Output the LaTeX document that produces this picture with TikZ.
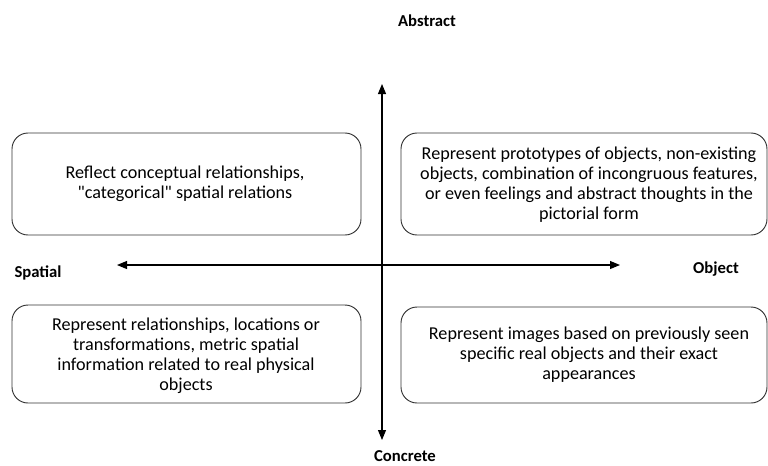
\documentclass[tikz,border=0pt]{standalone}
\usepackage{fontspec}
\setmainfont{Carlito}
\usetikzlibrary{arrows.meta}
\begin{document}
\begin{tikzpicture}[x=0.75pt,y=-0.75pt,
  box/.style={draw=black!80, rounded corners=12pt, line width=0.7pt, inner sep=0pt},
  txt/.style={align=center, font=\fontsize{13.6}{15}\selectfont, inner sep=0pt},
  lbl/.style={font=\fontsize{12.5}{15}\selectfont\bfseries, inner sep=0pt, anchor=base},
  axis/.style={line width=0.8pt, {Triangle[length=7.5pt,width=6pt]}-{Triangle[length=7.5pt,width=6pt]}}]
\useasboundingbox (0,0) rectangle (768,465);
% boxes
\node[box, minimum width=261.75pt, minimum height=76.5pt] (tlb) at (186.5,184) {};
\node[box, minimum width=274.5pt, minimum height=76.5pt] (trb) at (584,184) {};
\node[box, minimum width=261.75pt, minimum height=73.5pt] (blb) at (186.5,354) {};
\node[box, minimum width=274.5pt, minimum height=72pt] (brb) at (584,355) {};
% texts
\node[txt] (tlt) at (185,184) {Reflect conceptual relationships,\\\textquotedbl categorical\textquotedbl{} spatial relations};
\node[txt] (trt) at (589,185) {Represent prototypes of objects, non-existing\\objects, combination of incongruous features,\\or even feelings and abstract thoughts in the\\pictorial form};
\node[txt] (blt) at (186,356) {Represent relationships, locations or\\transformations, metric spatial\\information related to real physical\\objects};
\node[txt] (brt) at (589,355) {Represent images based on previously seen\\specific real objects and their exact\\appearances};
% axes
\coordinate (top) at (382,84);
\coordinate (bot) at (382,440);
\coordinate (lft) at (117,265);
\coordinate (rgt) at (620,265);
\draw[axis] (bot) -- (top);
\draw[axis] (lft) -- (rgt);
% labels
\node[lbl] (abs) at (427,26) {Abstract};
\node[lbl] (con) at (405,461) {Concrete};
\node[lbl] (spa) at (38,277.5) {Spatial};
\node[lbl] (obj) at (716,273) {Object};
\end{tikzpicture}
\end{document}
